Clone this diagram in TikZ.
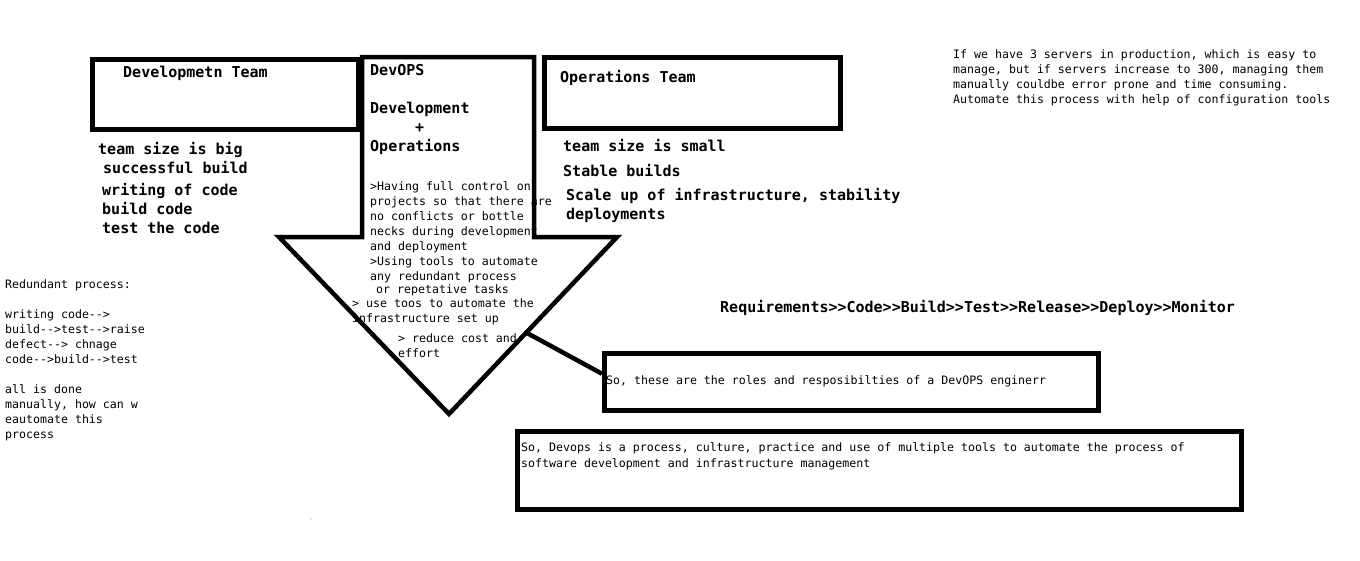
\documentclass[tikz,border=0pt]{standalone}
\usepackage{fontspec}
\setmonofont{DejaVu Sans Mono}
\usetikzlibrary{calc}
\newcommand{\hdfont}{\ttfamily\bfseries\fontsize{15}{19}\selectfont}
\newcommand{\ntfont}{\ttfamily\fontsize{11.6}{15}\selectfont}
\tikzset{
  box/.style={draw, line width=4.5pt, inner sep=0pt, anchor=north west},
  head/.style={font=\hdfont, inner sep=0pt, anchor=base west},
  note/.style={font=\ntfont, inner sep=0pt, anchor=base west, align=left},
}

\begin{document}
\begin{tikzpicture}[x=1pt,y=-1pt]
  \useasboundingbox (0,0) rectangle (1360,560);

  % Development team
  \node[box, minimum width=266pt, minimum height=70pt] (dev) at (90,57) {};
  \node[head] (devtitle) at (123,77) {Developmetn Team};
  \node[head] (dev1) at (98,154) {team size is big};
  \node[head] (dev2) at (103,173) {successful build};
  \node[head] (dev3) at (102,195) {writing of code};
  \node[head] (dev4) at (102,214) {build code};
  \node[head] (dev5) at (102,233) {test the code};

  % Redundant process (base = last line)
  \node[note] (redundant) at (5,438) {Redundant process:\\[15pt]
    writing code-->\\ build-->test-->raise\\ defect--> chnage\\ code-->build-->test\\[15pt]
    all is done\\ manually, how can w\\ eautomate this\\ process};

  % DevOPS text
  \node[head] (dotitle) at (370,75) {DevOPS};
  \node[head] (dodev) at (370,113) {Development};
  \node[head] (doplus) at (415,132) {+};
  \node[head] (doops) at (370,151) {Operations};
  \node[note] (roles1) at (370,280.5) {>Having full control on\\ projects so that there are\\
    no conflicts or bottle\\ necks during development\\ and deployment\\[0.5pt]
    >Using tools to automate\\ any redundant process};
  \node[note] (roles2) at (376,293) {or repetative tasks};
  \node[note] (roles3) at (352,322) {> use toos to automate the\\ infrastructure set up};
  \node[note] (roles4) at (398,357) {> reduce cost and\\ effort};

  % DevOPS arrow
  \coordinate (sTL) at (362,57);
  \coordinate (sTR) at (534,57);
  \coordinate (sBR) at (534,237);
  \coordinate (hR) at (617,237);
  \coordinate (tip) at (449,414);
  \coordinate (hL) at (279,237);
  \coordinate (sBL) at (362,237);
  \draw[line width=4.5pt, line join=miter] (sTL) -- (sTR) -- (sBR) -- (hR) -- (tip) -- (hL) -- (sBL) -- cycle;
  \coordinate (hook) at ($(hR)!0.54!(tip)$);

  % Operations team
  \node[box, minimum width=296pt, minimum height=71pt] (ops) at (542,55) {};
  \node[head] (opstitle) at (560,82) {Operations Team};
  \node[head] (ops1) at (563,151) {team size is small};
  \node[head] (ops2) at (563,176) {Stable builds};
  \node[head] (ops3) at (566,200) {Scale up of infrastructure, stability};
  \node[head] (ops4) at (566,219) {deployments};

  % Servers note
  \node[note] (servers) at (953,103) {If we have 3 servers in production, which is easy to\\
    manage, but if servers increase to 300, managing them\\
    manually couldbe error prone and time consuming.\\
    Automate this process with help of configuration tools};

  % Pipeline
  \node[head] (pipeline) at (720,312) {Requirements>>Code>>Build>>Test>>Release>>Deploy>>Monitor};

  % Roles box
  \node[box, minimum width=494pt, minimum height=57pt] (roles) at (602,351) {};
  \node[note, anchor=west] (rolestxt) at ([xshift=4pt]roles.west)
    {So, these are the roles and resposibilties of a DevOPS enginerr};
  \draw[line width=4.5pt] (hook) -- ($(roles.north west)!0.37!(roles.south west)$);

  % Devops box
  \node[box, minimum width=724pt, minimum height=78pt] (devops) at (515,429) {};
  \node[note, font=\ttfamily\fontsize{11.6}{16}\selectfont] (devopstxt) at (521,467)
    {So, Devops is a process, culture, practice and use of multiple tools to automate the process of\\
    software development and infrastructure management};

  % stray dot
  \fill[gray] (311,519) circle (0.7pt);
\end{tikzpicture}
\end{document}
